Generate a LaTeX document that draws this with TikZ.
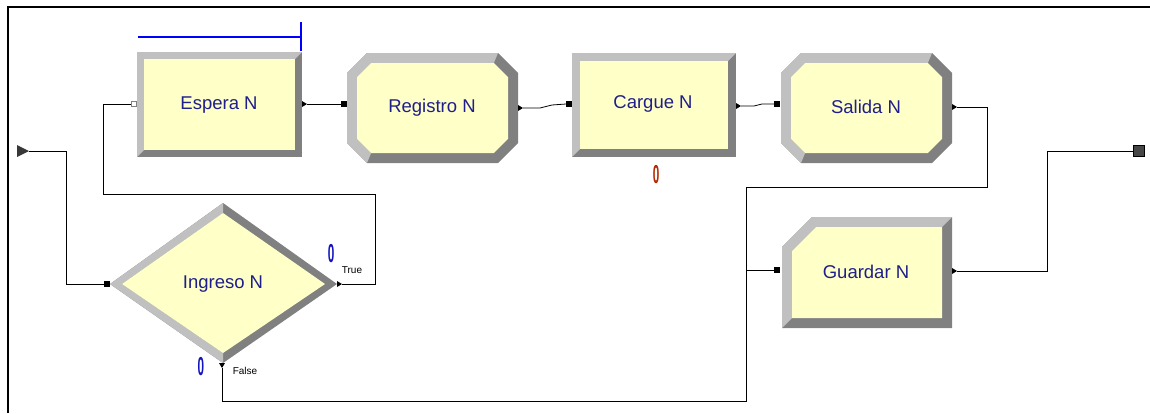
\documentclass[tikz,border=0pt]{standalone}
\usepackage{fontspec}
\setmainfont{Liberation Sans}
\definecolor{lt}{RGB}{192,192,192}
\definecolor{dk}{RGB}{128,128,128}
\definecolor{yl}{RGB}{255,255,200}
\definecolor{navy}{RGB}{30,30,140}
\definecolor{cntblue}{RGB}{20,20,190}
\definecolor{cntred}{RGB}{180,40,0}
\definecolor{lineblue}{RGB}{0,0,255}
\definecolor{dispgray}{RGB}{70,70,70}

\newcommand\bvrect[5]{%
 \fill[dk] (#1,#2) rectangle (#3,#4);
 \fill[lt] (#1,#4) -- (#1,#2) -- (#3,#2) -- ({#3-#5},{#2+#5}) -- ({#1+#5},{#4-#5}) -- cycle;
 \fill[yl] ({#1+#5},{#2+#5}) rectangle ({#3-#5},{#4-#5});
}
\newcommand\bvoct[6]{%
 \pgfmathsetmacro\bvci{#5-0.586*#6}%
 \pgfmathsetmacro\bvXa{#1+#6}\pgfmathsetmacro\bvYa{#2+#6}%
 \pgfmathsetmacro\bvXb{#3-#6}\pgfmathsetmacro\bvYb{#4-#6}%
 \fill[dk] (#1,{#2+#5}) -- ({#1+#5},#2) -- ({#3-#5},#2) -- (#3,{#2+#5}) -- (#3,{#4-#5}) -- ({#3-#5},#4) -- ({#1+#5},#4) -- (#1,{#4-#5}) -- cycle;
 \fill[lt] ({#1+#5},#4) -- (#1,{#4-#5}) -- (#1,{#2+#5}) -- ({#1+#5},#2) -- ({#3-#5},#2) -- ({\bvXb-\bvci},\bvYa) -- ({\bvXa+\bvci},\bvYa) -- (\bvXa,{\bvYa+\bvci}) -- (\bvXa,{\bvYb-\bvci}) -- ({\bvXa+\bvci},\bvYb) -- cycle;
 \fill[yl] (\bvXa,{\bvYa+\bvci}) -- ({\bvXa+\bvci},\bvYa) -- ({\bvXb-\bvci},\bvYa) -- (\bvXb,{\bvYa+\bvci}) -- (\bvXb,{\bvYb-\bvci}) -- ({\bvXb-\bvci},\bvYb) -- ({\bvXa+\bvci},\bvYb) -- (\bvXa,{\bvYb-\bvci}) -- cycle;
}
\newcommand\bvcut[6]{%
 \pgfmathsetmacro\bvci{#5-0.586*#6}%
 \pgfmathsetmacro\bvXa{#1+#6}\pgfmathsetmacro\bvYa{#2+#6}%
 \pgfmathsetmacro\bvXb{#3-#6}\pgfmathsetmacro\bvYb{#4-#6}%
 \fill[dk] (#1,{#2+#5}) -- ({#1+#5},#2) -- (#3,#2) -- (#3,#4) -- (#1,#4) -- cycle;
 \fill[lt] (#1,#4) -- (#1,{#2+#5}) -- ({#1+#5},#2) -- (#3,#2) -- (\bvXb,\bvYa) -- ({\bvXa+\bvci},\bvYa) -- (\bvXa,{\bvYa+\bvci}) -- (\bvXa,\bvYb) -- cycle;
 \fill[yl] (\bvXa,{\bvYa+\bvci}) -- ({\bvXa+\bvci},\bvYa) -- (\bvXb,\bvYa) -- (\bvXb,\bvYb) -- (\bvXa,\bvYb) -- cycle;
}
\newcommand\outr[2]{\fill (#1,{#2-3}) -- ({#1+5},#2) -- (#1,{#2+3}) -- cycle;}
\newcommand\outd[2]{\fill ({#1-3},#2) -- ({#1+3},#2) -- (#1,{#2+5}) -- cycle;}

\begin{document}
\begin{tikzpicture}[x=1pt,y=-1pt,
  wire/.style={draw=black,line width=0.8pt},
  lbl/.style={text=navy,inner sep=0,font=\fontsize{18.5}{20}\selectfont},
  insq/.style={fill=black,draw=none,minimum size=5.5pt,inner sep=0pt,rectangle},
  cnt/.style={inner sep=0,font=\fontsize{26}{27}\selectfont\bfseries,xscale=0.45},
  small/.style={inner sep=0,font=\fontsize{10}{11}\selectfont}]
\useasboundingbox (0,0) rectangle (1150,413);
\draw[line width=2pt] (8,413) -- (8,7) -- (1150,7);

% blue line above Espera
\draw[draw=lineblue,line width=1.1pt] (138,37) -- (301,37);
\draw[draw=lineblue,line width=1.1pt] (301,22) -- (301,51);

% shapes
\bvrect{137}{52}{302}{157}{7}
\bvoct{347}{53}{518}{163}{20}{10}
\bvrect{572}{53}{736}{157}{8}
\bvoct{781}{53}{952}{163}{20}{10}
\bvcut{782}{217}{952}{328}{30}{10}
% diamond
\fill[dk] (110,284) -- (223,203) -- (337,284) -- (223,363) -- cycle;
\fill[lt] (223,363) -- (110,284) -- (223,203) -- (223,213) -- (122,284) -- (223,353) -- cycle;
\fill[yl] (122,284) -- (223,213) -- (325,284) -- (223,353) -- cycle;

% labels
\node[lbl] (espera) at (219,105) {Espera N};
\node[lbl] (registro) at (432,108) {Registro N};
\node[lbl] (cargue) at (653,104) {Cargue N};
\node[lbl] (salida) at (866,107) {Salida N};
\node[lbl] (guardar) at (866,272) {Guardar N};
\node[lbl] (ingreso) at (223,284) {Ingreso N};

\node[cnt,text=cntblue] (ctrue) at (331,254) {0};
\node[cnt,text=cntblue] (cfalse) at (201,367) {0};
\node[cnt,text=cntred] (ccargue) at (656,175) {0};
\node[small] (ltrue) at (352,270) {True};
\node[small] (lfalse) at (245,371) {False};

% ports
\fill[dispgray!80!black] (17,145) -- (29,151) -- (17,157) -- cycle;
\coordinate (createout) at (29,151);
\node[insq] (decin) at (107,284) {};
\outr{337}{284}\coordinate (trueout) at (342,284);
\outd{222}{363}\coordinate (falseout) at (222,368);
\node[rectangle,draw=dk,fill=white,minimum size=5pt,inner sep=0pt,line width=0.6pt] (esperain) at (134,104) {};
\outr{302}{104}\coordinate (esperaout) at (307,104);
\node[insq] (registroin) at (344,104) {};
\outr{518}{108}\coordinate (registroout) at (523,108);
\node[insq] (carguein) at (569,104) {};
\outr{736}{106}\coordinate (cargueout) at (741,106);
\node[insq] (salidain) at (777,104) {};
\outr{952}{107}\coordinate (salidaout) at (957,107);
\node[insq] (guardarin) at (777,270) {};
\outr{952}{271}\coordinate (guardarout) at (957,271);
\node[rectangle,fill=dispgray,draw=black,line width=0.6pt,minimum size=11pt,inner sep=0pt] (dispose) at (1139,151) {};

% connectors
\draw[wire] (createout) -- (66,151) -- (66,284) -- (decin.west);
\draw[wire] (trueout) -- (375,284) -- (375,194) -- (103,194) -- (103,104) -- (esperain.west);
\draw[wire] (esperaout) -- (registroin.west);
\draw[wire] (registroout) -- (540,108) -- (552,105) -- (carguein.west);
\draw[wire] (cargueout) -- (754,106) -- (762,104) -- (salidain.west);
\draw[wire] (salidaout) -- (987,107) -- (987,187) -- (746,187) -- (746,401) -- (222,401) -- (falseout);
\coordinate (branch) at (746,270);
\draw[wire] (branch) -- (guardarin.west);
\draw[wire] (guardarout) -- (1047,271) -- (1047,151) -- (dispose.west);
\end{tikzpicture}
\end{document}
